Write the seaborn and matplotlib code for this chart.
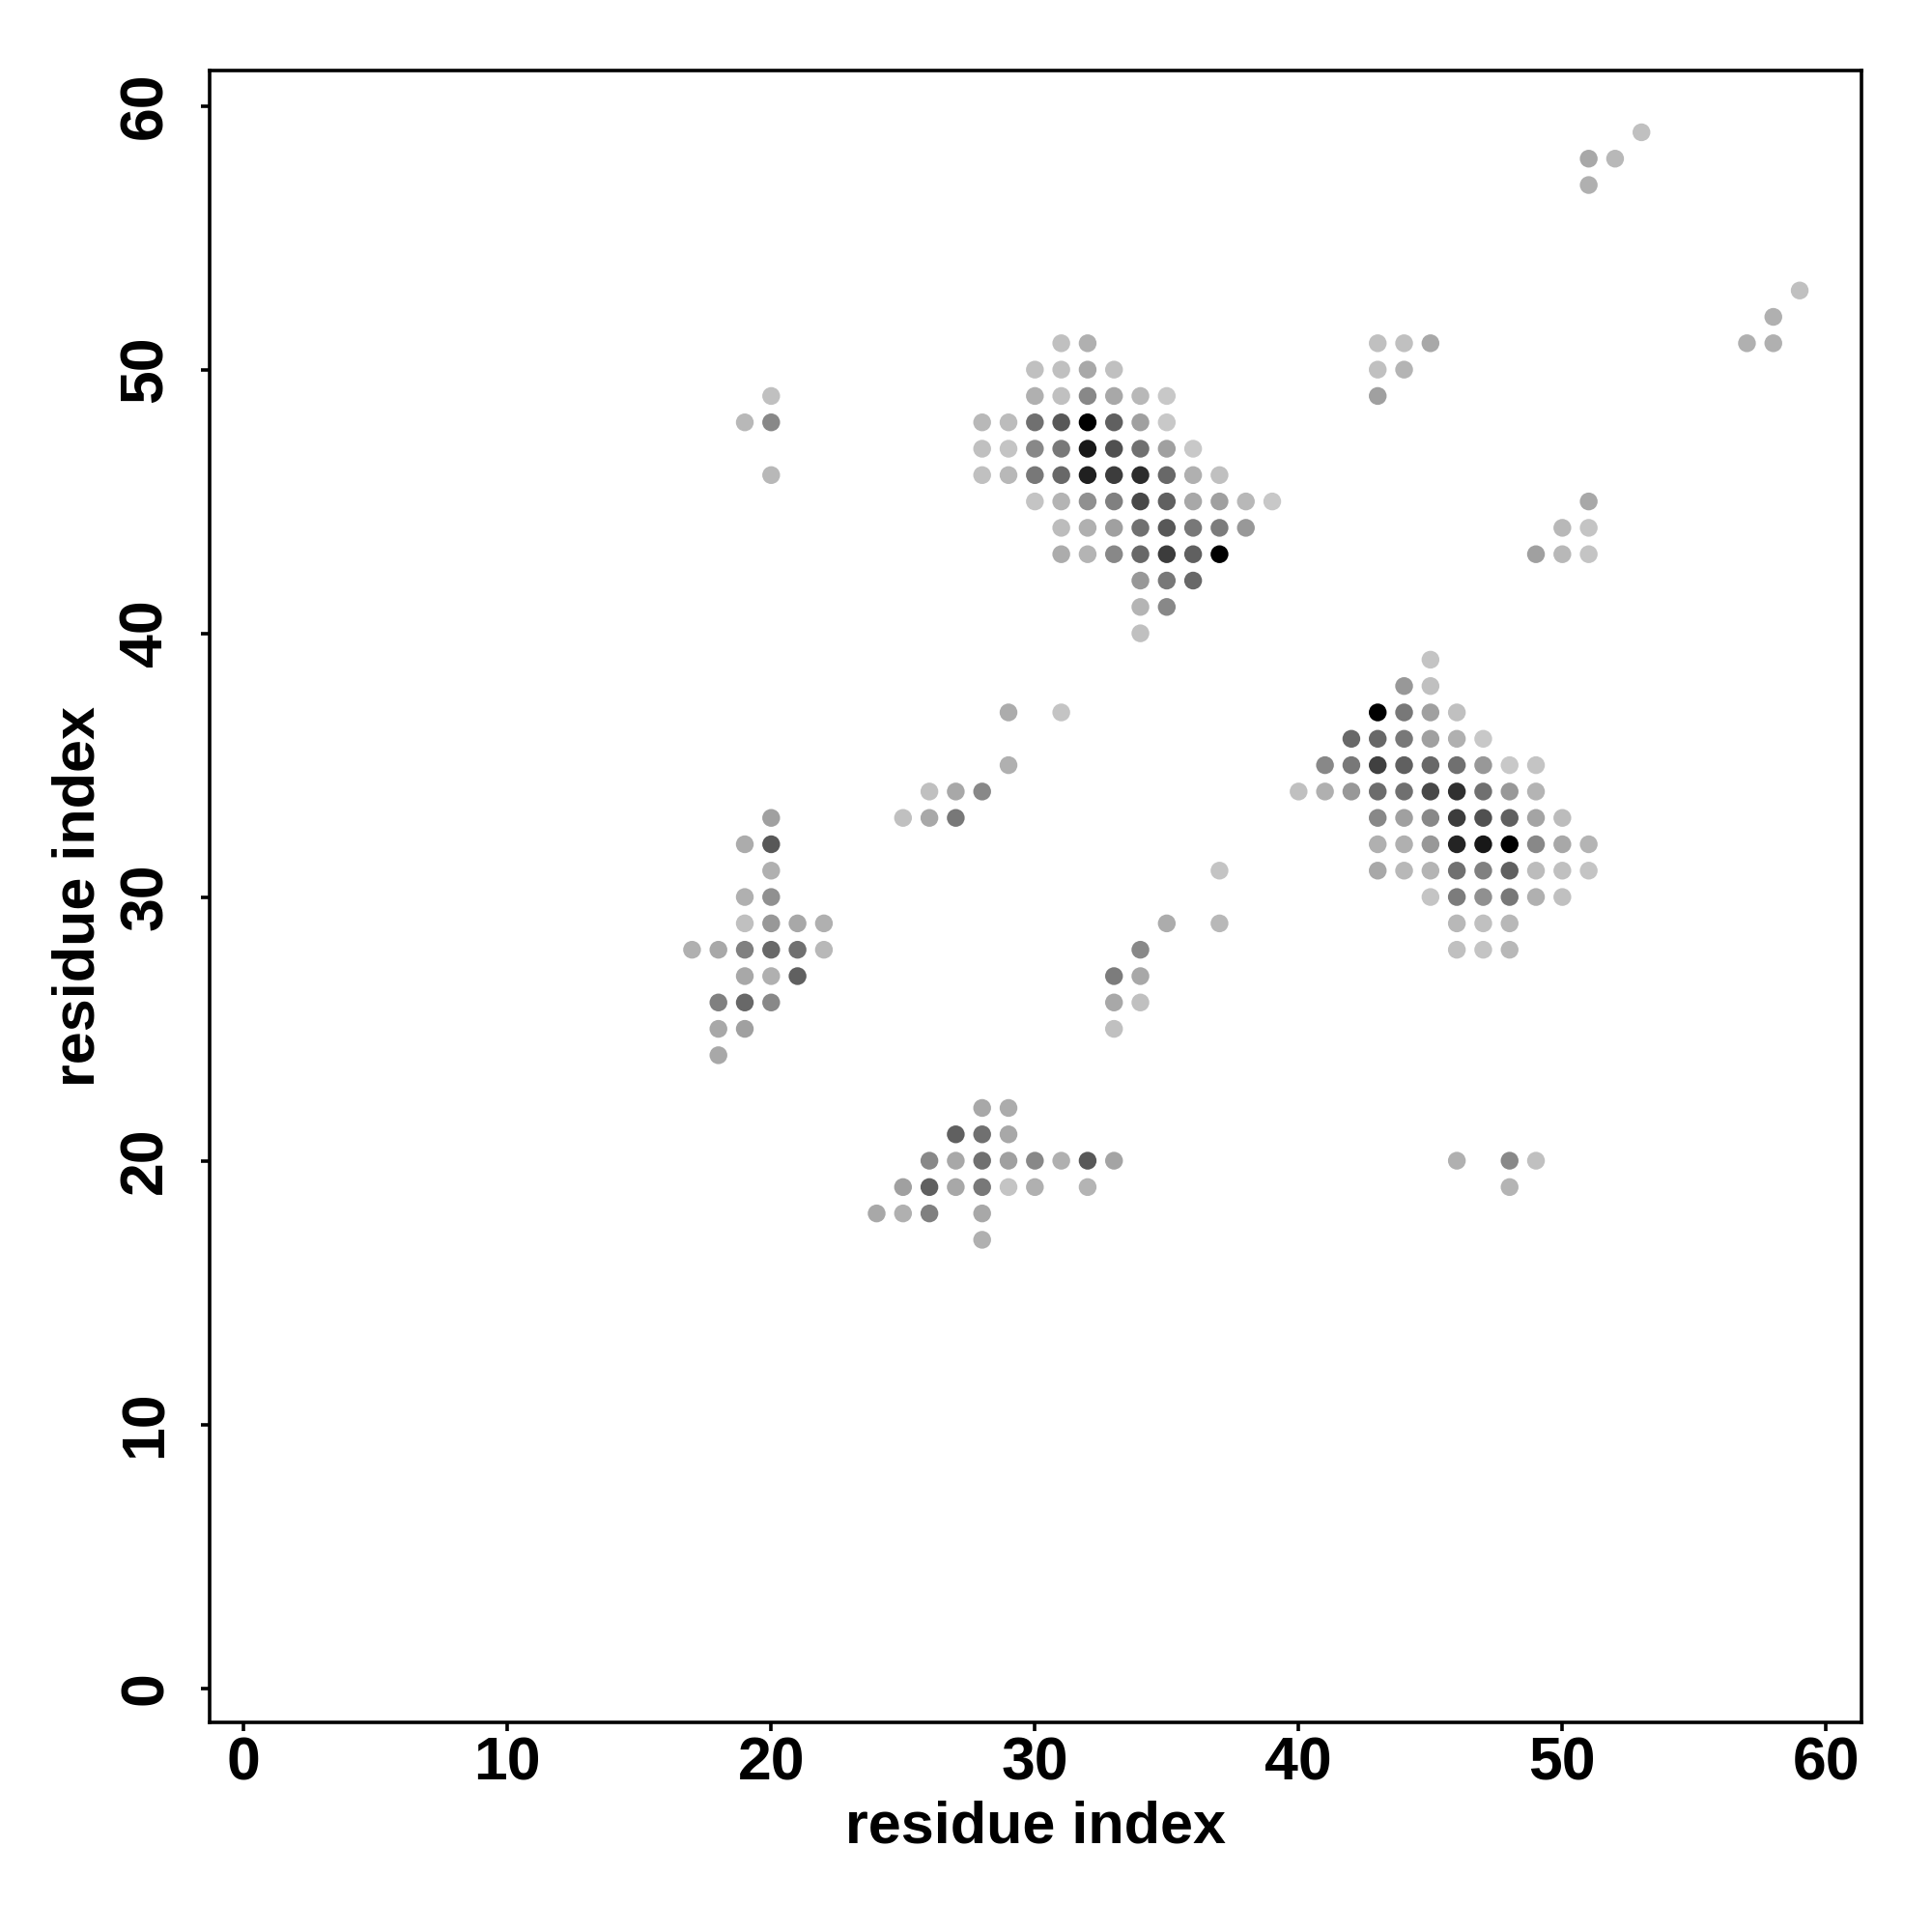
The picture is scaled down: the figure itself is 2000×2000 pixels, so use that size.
import matplotlib
matplotlib.use("Agg")
import matplotlib.pyplot as plt
from matplotlib.colors import LinearSegmentedColormap
import seaborn as sns
import pandas as pd

# contact map: residue i, residue j, grey level (0 = black)
# big block around (33, 46)
blk1_i = [31, 32,
          30, 31, 32, 33,
          30, 31, 32, 33, 34, 35,
          28, 29, 30, 31, 32, 33, 34, 35,
          28, 29, 30, 31, 32, 33, 34, 35, 36,
          28, 29, 30, 31, 32, 33, 34, 35, 36, 37,
          30, 31, 32, 33, 34, 35, 36, 37, 38, 39,
          31, 32, 33, 34, 35, 36, 37, 38,
          31, 32, 33, 34, 35, 36, 37,
          34, 35, 36,
          34, 35,
          34]
blk1_j = [51, 51,
          50, 50, 50, 50,
          49, 49, 49, 49, 49, 49,
          48, 48, 48, 48, 48, 48, 48, 48,
          47, 47, 47, 47, 47, 47, 47, 47, 47,
          46, 46, 46, 46, 46, 46, 46, 46, 46, 46,
          45, 45, 45, 45, 45, 45, 45, 45, 45, 45,
          44, 44, 44, 44, 44, 44, 44, 44,
          43, 43, 43, 43, 43, 43, 43,
          42, 42, 42,
          41, 41,
          40]
blk1_g = [192, 176,
          192, 192, 168, 192,
          176, 192, 136, 168, 184, 200,
          184, 188, 112, 88, 0, 96, 160, 200,
          192, 196, 136, 120, 24, 80, 112, 160, 200,
          192, 184, 120, 104, 32, 60, 44, 104, 176, 192,
          196, 180, 144, 128, 72, 96, 168, 160, 184, 200,
          188, 176, 160, 112, 88, 120, 124, 152,
          172, 180, 136, 104, 60, 96, 0,
          152, 120, 104,
          180, 136,
          192]

# big block around (46, 33)
blk2_i = [45,
          44, 45,
          43, 44, 45, 46,
          42, 43, 44, 45, 46, 47,
          41, 42, 43, 44, 45, 46, 47, 48, 49,
          40, 41, 42, 43, 44, 45, 46, 47, 48, 49,
          43, 44, 45, 46, 47, 48, 49, 50,
          43, 44, 45, 46, 47, 48, 49, 50, 51,
          43, 44, 45, 46, 47, 48, 49, 50, 51,
          45, 46, 47, 48, 49, 50,
          46, 47, 48,
          46, 47, 48]
blk2_j = [39,
          38, 38,
          37, 37, 37, 37,
          36, 36, 36, 36, 36, 36,
          35, 35, 35, 35, 35, 35, 35, 35, 35,
          34, 34, 34, 34, 34, 34, 34, 34, 34, 34,
          33, 33, 33, 33, 33, 33, 33, 33,
          32, 32, 32, 32, 32, 32, 32, 32, 32,
          31, 31, 31, 31, 31, 31, 31, 31, 31,
          30, 30, 30, 30, 30, 30,
          29, 29, 29,
          28, 28, 28]
blk2_g = [196,
          152, 192,
          0, 120, 160, 192,
          104, 104, 120, 160, 176, 200,
          136, 120, 64, 96, 104, 112, 152, 200, 196,
          192, 176, 152, 108, 112, 72, 48, 112, 152, 180,
          136, 160, 136, 60, 80, 96, 164, 188,
          176, 176, 152, 36, 24, 0, 136, 168, 180,
          168, 184, 180, 112, 128, 96, 188, 192, 196,
          196, 124, 144, 120, 176, 192,
          184, 192, 184,
          192, 196, 184]

# block around (20, 28)
blk3_i = [20, 19, 20, 20, 19, 20, 19, 20, 21, 22,
          17, 18, 19, 20, 21, 22, 19, 20, 21, 18, 19, 20, 18, 19, 18]
blk3_j = [33, 32, 32, 31, 30, 30, 29, 29, 29, 29,
          28, 28, 28, 28, 28, 28, 27, 27, 27, 26, 26, 26, 25, 25, 24]
blk3_g = [160, 172, 88, 176, 176, 144, 192, 152, 168, 176,
          176, 168, 128, 104, 112, 184, 168, 176, 96, 128, 104, 136, 168, 160, 168]

# block around (28, 20)
blk4_i = [28, 29, 27, 28, 29, 26, 27, 28, 29, 30, 31, 32, 33,
          25, 26, 27, 28, 29, 30, 32, 24, 25, 26, 28, 28]
blk4_j = [22, 22, 21, 21, 21, 20, 20, 20, 20, 20, 20, 20, 20,
          19, 19, 19, 19, 19, 19, 19, 18, 18, 18, 18, 17]
blk4_g = [168, 172, 96, 112, 168, 136, 168, 112, 160, 136, 176, 88, 164,
          160, 96, 168, 120, 196, 176, 180, 168, 176, 128, 168, 176]

# scattered small contacts
few_i = [20, 19, 20, 20,
         29, 31, 29, 26, 27, 28, 25, 26, 27,
         35, 34, 33, 34, 33, 34, 33, 37, 37,
         43, 44, 45, 43, 44, 43,
         51, 50, 51, 49, 50, 51,
         46, 48, 49, 48,
         53, 51, 52, 51,
         59, 58, 57, 58]
few_j = [49, 48, 48, 46,
         37, 37, 35, 34, 34, 34, 33, 33, 33,
         29, 28, 27, 27, 26, 26, 25, 31, 29,
         51, 51, 51, 50, 50, 49,
         45, 44, 44, 43, 43, 43,
         20, 20, 20, 19,
         59, 58, 58, 57,
         53, 52, 51, 51]
few_g = [192, 184, 136, 184,
         172, 196, 176, 192, 168, 136, 192, 168, 120,
         172, 136, 124, 168, 168, 192, 192, 196, 184,
         192, 192, 168, 192, 180, 160,
         168, 184, 196, 160, 184, 196,
         176, 136, 192, 180,
         192, 168, 184, 176,
         192, 176, 176, 176]

df = pd.DataFrame({
    "i": blk1_i + blk2_i + blk3_i + blk4_i + few_i,
    "j": blk1_j + blk2_j + blk3_j + blk4_j + few_j,
    "grey": blk1_g + blk2_g + blk3_g + blk4_g + few_g,
})

sns.set_style("white")
plt.rcParams['font.family'] = ['Liberation Sans', 'DejaVu Sans']
plt.rcParams['text.color'] = 'black'
plt.rcParams['axes.labelcolor'] = 'black'
plt.rcParams['xtick.color'] = 'black'
plt.rcParams['ytick.color'] = 'black'

grey_map = LinearSegmentedColormap.from_list("grey", ["black", "white"])

fig = plt.figure(figsize=(10, 10), dpi=200)
ax = fig.add_axes([0.1084, 0.1085, 0.8552, 0.8551])
sns.scatterplot(data=df, x="i", y="j", hue="grey", palette=grey_map, hue_norm=(0, 255),
                s=44, linewidth=0, legend=False, ax=ax)

ax.set_xlim(-1.3, 61.35)
ax.set_ylim(-1.3, 61.35)
ticks = [0, 10, 20, 30, 40, 50, 60]
ax.set_xticks(ticks)
ax.set_yticks(ticks)
ax.set_xticklabels([str(t) for t in ticks], fontweight='bold', fontsize=22.5)
ax.set_yticklabels([str(t) for t in ticks], fontweight='bold', fontsize=22.5,
                   rotation=90, va='center')
ax.tick_params(axis='both', direction='out', length=3.2, width=1.3, color='black',
               labelcolor='black', bottom=True, left=True)
ax.tick_params(axis='x', pad=1.5)
ax.tick_params(axis='y', pad=9.8)
for sp in ax.spines.values():
    sp.set_visible(True)
    sp.set_color('black')
    sp.set_linewidth(1.3)

ax.set_xlabel("residue index", fontweight='bold', fontsize=22, labelpad=3, color='black')
ax.set_ylabel("residue index", fontweight='bold', fontsize=22, labelpad=4, color='black')

fig.savefig("out.png", dpi=200)
